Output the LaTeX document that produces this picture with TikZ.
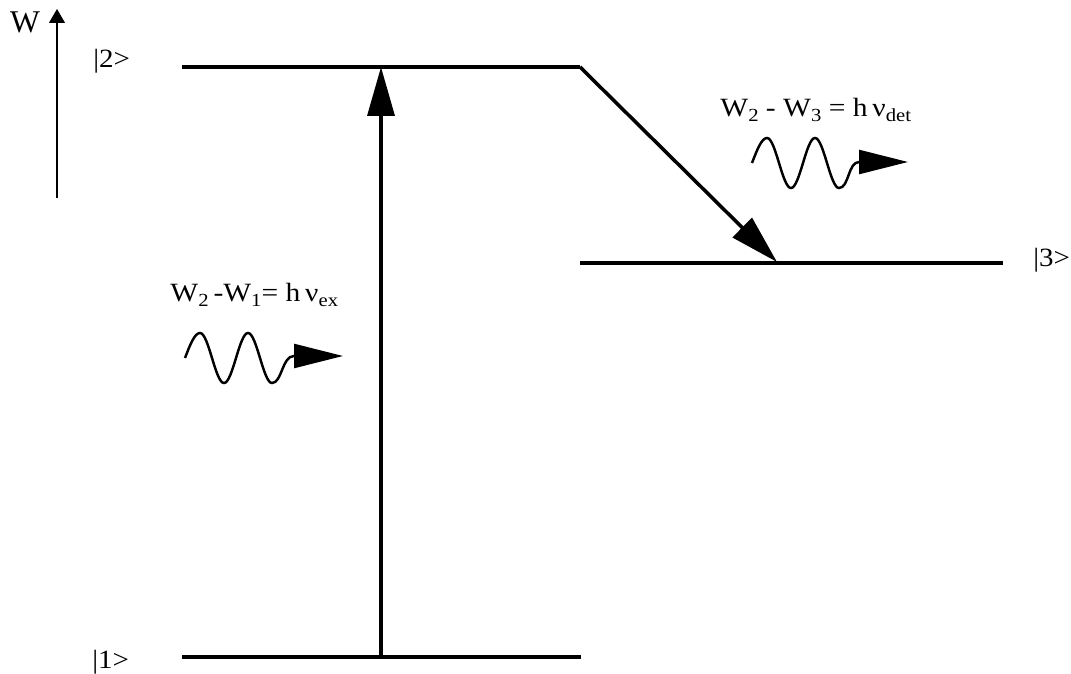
\documentclass[tikz,border=0pt]{standalone}
\usepackage{fontspec}
\setmainfont{Liberation Serif}
\usetikzlibrary{arrows.meta}

\newcommand{\lsub}[1]{\raisebox{-0.4ex}{\fontsize{10.5}{11}\selectfont #1}}

\begin{document}
\begin{tikzpicture}[
  x=0.2mm, y=-0.2mm,
  level/.style={line width=2pt},
  trans/.style={line width=2pt, -{Triangle[length=9.8mm, width=5.4mm]}},
  photon/.style={line width=1.4pt, -{Triangle[length=9.8mm, width=4.8mm]}},
  axis/.style={line width=0.6pt, -{Triangle[length=2.8mm, width=3.2mm]}},
  state/.style={anchor=base west, inner sep=0pt, xscale=1.1, transform shape, font=\fontsize{15}{18}\selectfont},
  eq/.style={anchor=base west, inner sep=0pt, xscale=1.12, transform shape, font=\fontsize{15}{18}\selectfont}
]
\useasboundingbox (0,0) rectangle (1071,674);

% energy axis
\coordinate (wbot) at (57,198);
\coordinate (wtop) at (57,9);
\draw[axis] (wbot) -- (wtop);
\node[inner sep=0pt, font=\fontsize{18}{20}\selectfont] (wlab) at (25,22) {W};

% levels
\draw[level] (182,657) coordinate (l1w) -- (581,657) coordinate (l1e);
\draw[level] (182,67) coordinate (l2w) -- (580,67) coordinate (l2e);
\draw[level] (580,263) coordinate (l3w) -- (1003,263) coordinate (l3e);
\node[state] (s1) at (92,668) {|1>};
\node[state] (s2) at (93,68) {|2>};
\node[state] (s3) at (1033,267) {|3>};

% transitions
\coordinate (up0) at (381,657);
\coordinate (up1) at (381,67);
\coordinate (down1) at (777,262);
\draw[trans] (up0) -- (up1);
\draw[trans] (l2e) -- (down1);

% photons
\draw[photon] (185,358) sin (200,333) cos (212,358) sin (224,383) cos (236,358)
  sin (248,333) cos (260,358) sin (272,383)
  .. controls (282,383) and (282,356) .. (294,356) -- (343,356);
\node[eq] (exlab) at (170,302) {W\lsub{2}\,-W\lsub{1}= h\,ν\lsub{ex}};

\draw[photon] (752,163) sin (767,138) cos (779,163) sin (791,188) cos (803,163)
  sin (815,138) cos (827,163) sin (839,188)
  .. controls (849,188) and (848,162) .. (859,162) -- (908,162);
\node[eq] (detlab) at (720,117) {W\lsub{2} - W\lsub{3} = h\,ν\lsub{det}};
\end{tikzpicture}
\end{document}
